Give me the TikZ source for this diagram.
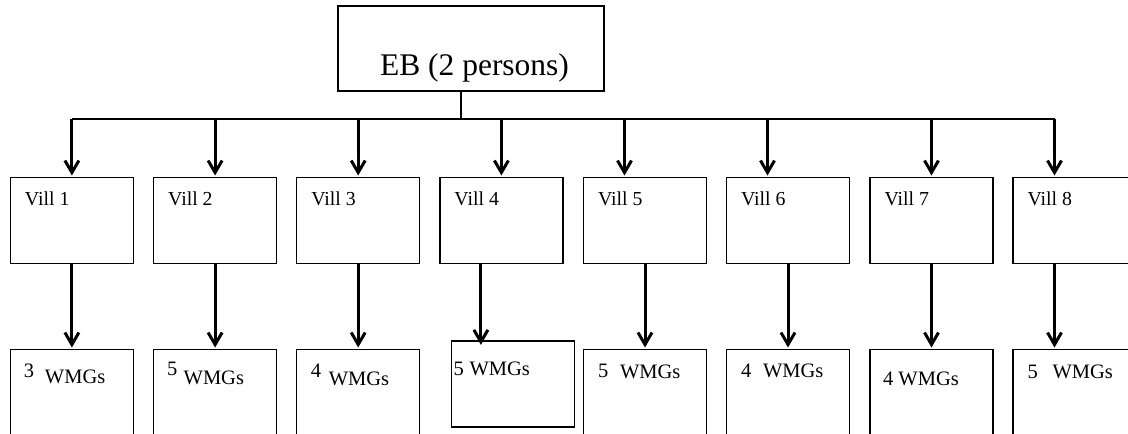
\documentclass[tikz,border=0pt]{standalone}
\usepackage{fontspec}
\setmainfont{Liberation Serif}
\usetikzlibrary{arrows.meta, calc}

\tikzset{
  unitbox/.style={draw, line width=1.3pt, minimum width=123pt, minimum height=86pt, inner sep=0pt},
  downarr/.style={line width=3pt, shorten >=1.5pt, -{Straight Barb[length=12pt, width=14pt]}},
  link/.style={line width=1.5pt},
  villtext/.style={anchor=base west, inner sep=0pt, font=\fontsize{19.8}{22}\selectfont},
  wmgtext/.style={anchor=base west, inner sep=0pt, font=\fontsize{20.5}{23}\selectfont}
}

\begin{document}
\begin{tikzpicture}[x=1pt, y=-1pt]
  \clip (0,0) rectangle (1128,434);
  % board
  \node[unitbox, minimum width=266pt, minimum height=85pt] (eb) at (471,48.5) {};
  \node[anchor=base, inner sep=0pt, font=\fontsize{31.5}{36}\selectfont] (ebt) at ($(eb.center)+(3.5,27)$) {EB (2 persons)};
  \coordinate (bus) at (0,119);
  % villages
  \foreach \i/\x in {1/71.9,2/215.1,3/358.2,4/501.4,5/645,6/788,7/931.5,8/1074.5}{
    \node[unitbox, anchor=north] (v\i) at (\x,177) {};
    \node[villtext] (vt\i) at ($(v\i.north west)+(15,28)$) {Vill \i};
  }
  % groups
  \foreach \i/\x in {1/71.9,2/215.1,3/358.2,5/645,6/788,7/931.5,8/1074.5}
    \node[unitbox, anchor=north, minimum height=100pt] (w\i) at (\x,349) {};
  \node[unitbox] (w4) at (513,384) {};
  \foreach \i/\n/\nx/\ny/\wx/\wy in {1/3/14/28/35/34, 2/5/14/26/30.5/35, 3/4/14.5/28/32.5/36,
      4/5/2.5/35/18.5/35, 5/5/15/28/37/29, 6/4/15/28/37/28, 8/5/15/29/40/29}{
    \node[wmgtext] (wn\i) at ($(w\i.north west)+(\nx,\ny)$) {\n};
    \node[wmgtext] (wl\i) at ($(w\i.north west)+(\wx,\wy)$) {WMGs};
  }
  \node[wmgtext] (wl7) at ($(w7.north west)+(13.5,36)$) {4 WMGs};
  % connectors
  \draw[link] ($(eb.south)+(-10,0)$) -- ($(eb.south |- bus)+(-10,0)$);
  \draw[link] (v1.north |- bus) -- ($(v8.north |- bus)+(-20,0)$);
  \foreach \i/\dx in {1/0,2/0,3/0,4/0,5/-20.5,6/-20.5,7/0,8/-20}
    \draw[downarr] ($(v\i.north |- bus)+(\dx,0)$) -- ($(v\i.north)+(\dx,0)$);
  \foreach \i/\dx in {1/0,2/0,3/0,5/0,6/0,7/0,8/-20}
    \draw[downarr] ($(v\i.south)+(\dx,0)$) -- ($(w\i.north)+(\dx,0)$);
  \draw[downarr] ($(v4.south)+(-20.5,0)$) -- ($(v4.south |- w4.north)+(-20.5,6)$);
\end{tikzpicture}
\end{document}
